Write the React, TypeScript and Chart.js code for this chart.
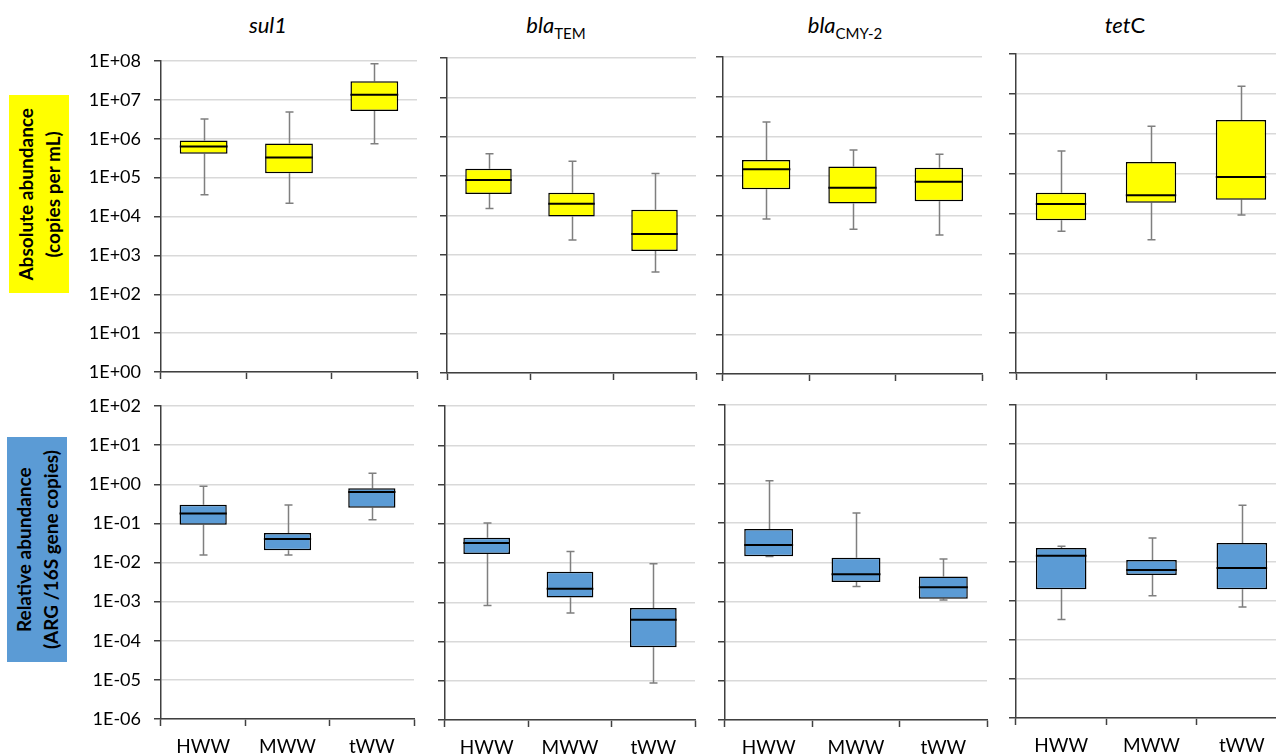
import React, { useEffect, useRef } from 'react';
import { Chart, registerables } from 'chart.js';

Chart.register(...registerables);

// ---------- data ----------
const groups = ['HWW', 'MWW', 'tWW'];
const absTicks = [1e0, 1e1, 1e2, 1e3, 1e4, 1e5, 1e6, 1e7, 1e8];
const relTicks = [1e-6, 1e-5, 1e-4, 1e-3, 1e-2, 1e-1, 1e0, 1e1, 1e2];

// each group: [min, q1, median, q3, max]
// Absolute abundance (copies per mL)
const sul1Abs = [
  [3.6e4, 4.1e5, 6.3e5, 9.0e5, 3.2e6],
  [2.2e4, 1.3e5, 3.3e5, 7.5e5, 4.9e6],
  [7.4e5, 5.2e6, 1.36e7, 3.0e7, 8.5e7],
];
const blaTemAbs = [
  [1.5e4, 3.5e4, 8.0e4, 1.55e5, 3.7e5],
  [2.4e3, 9.5e3, 2.0e4, 3.8e4, 2.4e5],
  [3.7e2, 1.25e3, 3.4e3, 1.4e4, 1.16e5],
];
const blaCmyAbs = [
  [8.2e3, 4.6e4, 1.48e5, 2.5e5, 2.3e6],
  [4.5e3, 2.0e4, 5.0e4, 1.73e5, 4.5e5],
  [3.2e3, 2.3e4, 7.1e4, 1.6e5, 3.5e5],
];
const tetCAbs = [
  [3.6e3, 6.8e3, 1.74e4, 3.3e4, 3.7e5],
  [2.2e3, 1.87e4, 2.85e4, 1.95e5, 1.55e6],
  [9.2e3, 2.2e4, 8.2e4, 2.2e6, 1.55e7],
];
// Relative abundance (ARG / 16S gene copies)
const sul1Rel = [
  [0.0155, 0.092, 0.18, 0.3, 0.89],
  [0.0155, 0.0207, 0.04, 0.057, 0.295],
  [0.123, 0.25, 0.63, 0.79, 1.9],
];
const blaTemRel = [
  [8.3e-4, 0.0169, 0.0325, 0.044, 0.105],
  [5.3e-4, 1.32e-3, 2.2e-3, 6.0e-3, 0.0196],
  [8.7e-6, 7.1e-5, 3.6e-4, 7.1e-4, 9.5e-3],
];
const blaCmyRel = [
  [0.0142, 0.0144, 0.0277, 0.071, 1.2],
  [2.44e-3, 3.2e-3, 5.0e-3, 0.0132, 0.18],
  [1.12e-3, 1.2e-3, 2.34e-3, 4.4e-3, 0.0123],
];
const tetCRel = [
  [3.3e-4, 1.94e-3, 0.014, 0.022, 0.0246],
  [1.33e-3, 4.5e-3, 6.1e-3, 0.011, 0.04],
  [6.9e-4, 1.94e-3, 6.8e-3, 0.0295, 0.275],
];

// ---------- layout ----------
const topRects = [
  [161, 417, 61, 372],
  [447, 696, 58, 373],
  [723, 982, 57, 374],
  [1016, 1286, 54, 373],
];
const botRects = [
  [161, 414, 406, 719],
  [445, 695, 406, 720],
  [725, 987, 405, 720],
  [1016, 1287, 405, 718],
];
const AXW = 80;
const PT = 30;
const XH = 45;
const PR = 2;
const FONT = 'Lato';
const AXIS_COLOR = '#404040';

const fmtExp = (v: number) => {
  const e = Math.round(Math.log10(v));
  const s = e < 0 ? '-' : '+';
  return '1E' + s + String(Math.abs(e)).padStart(2, '0');
};

const boxPlugin = {
  id: 'boxStats',
  beforeDatasetsDraw(chart: any, _args: any, opts: any) {
    const stats = opts.stats as number[][];
    const meta = chart.getDatasetMeta(0);
    const ys = chart.scales.y;
    const ctx = chart.ctx;
    ctx.save();
    ctx.strokeStyle = '#7f7f7f';
    ctx.lineWidth = 1.5;
    meta.data.forEach((bar: any, i: number) => {
      const [mn, q1, , q3, mx] = stats[i];
      const x = Math.round(bar.x) + 0.5;
      const cap = 4;
      const pMx = ys.getPixelForValue(mx);
      const pMn = ys.getPixelForValue(mn);
      ctx.beginPath();
      ctx.moveTo(x, ys.getPixelForValue(q3));
      ctx.lineTo(x, pMx);
      ctx.moveTo(x - cap, pMx);
      ctx.lineTo(x + cap, pMx);
      ctx.moveTo(x, ys.getPixelForValue(q1));
      ctx.lineTo(x, pMn);
      ctx.moveTo(x - cap, pMn);
      ctx.lineTo(x + cap, pMn);
      ctx.stroke();
    });
    ctx.restore();
  },
  afterDatasetsDraw(chart: any, _args: any, opts: any) {
    const stats = opts.stats as number[][];
    const meta = chart.getDatasetMeta(0);
    const ys = chart.scales.y;
    const ctx = chart.ctx;
    ctx.save();
    ctx.strokeStyle = '#000';
    ctx.lineWidth = 2;
    meta.data.forEach((bar: any, i: number) => {
      const med = stats[i][2];
      const half = bar.width / 2;
      const y = ys.getPixelForValue(med);
      ctx.beginPath();
      ctx.moveTo(bar.x - half, y);
      ctx.lineTo(bar.x + half, y);
      ctx.stroke();
    });
    ctx.restore();
  },
};

type PanelProps = {
  rect: number[];
  stats: number[][];
  ticks: number[];
  showY: boolean;
  showX: boolean;
  fill: string;
};

function Panel({ rect, stats, ticks, showY, showX, fill }: PanelProps) {
  const ref = useRef<HTMLCanvasElement | null>(null);
  const [L, R, T, B] = rect;
  const left = L - AXW;
  const top = T - PT;
  const width = R - L + AXW + PR;
  const height = B - T + PT + XH;

  useEffect(() => {
    if (!ref.current) return;
    const chart = new Chart(ref.current, {
      type: 'bar',
      data: {
        labels: groups,
        datasets: [
          {
            data: stats.map((s) => [s[1], s[3]]) as any,
            backgroundColor: fill,
            borderColor: '#000',
            borderWidth: 1.5,
            borderSkipped: false,
            barPercentage: 0.56,
            categoryPercentage: 1,
          },
        ],
      },
      options: {
        animation: false,
        responsive: false,
        maintainAspectRatio: false,
        devicePixelRatio: 1,
        events: [],
        layout: { padding: { top: PT, right: PR, left: 0, bottom: 0 } },
        plugins: {
          legend: { display: false },
          tooltip: { enabled: false },
          boxStats: { stats },
        } as any,
        scales: {
          x: {
            type: 'category',
            offset: true,
            grid: {
              display: true,
              drawOnChartArea: false,
              drawTicks: true,
              offset: true,
              tickLength: 7,
              tickColor: AXIS_COLOR,
              tickWidth: 1.5,
            } as any,
            border: { display: true, color: AXIS_COLOR, width: 1.5 },
            ticks: {
              display: showX,
              color: '#000',
              font: { family: FONT, size: 19 },
              padding: 9,
              maxRotation: 0,
              autoSkip: false,
            },
            afterFit: (s: any) => {
              s.height = XH;
            },
          },
          y: {
            type: 'logarithmic',
            min: ticks[0],
            max: ticks[ticks.length - 1],
            afterBuildTicks: (s: any) => {
              s.ticks = ticks.map((v) => ({ value: v }));
            },
            grid: {
              color: '#d9d9d9',
              lineWidth: 1.5,
              drawTicks: true,
              tickLength: 7,
              tickColor: AXIS_COLOR,
              tickWidth: 1.5,
            } as any,
            border: { display: true, color: AXIS_COLOR, width: 1.5 },
            ticks: {
              display: showY,
              color: '#000',
              font: { family: FONT, size: 18 },
              padding: 13,
              autoSkip: false,
              callback: (v: any) => fmtExp(Number(v)),
            },
            afterFit: (s: any) => {
              s.width = AXW;
            },
          },
        },
      },
      plugins: [boxPlugin],
    });
    return () => chart.destroy();
  }, []);

  return (
    <canvas
      ref={ref}
      width={width}
      height={height}
      style={{ position: 'absolute', left, top, width, height }}
    />
  );
}

const titleStyle: React.CSSProperties = {
  position: 'absolute',
  top: 12,
  width: 200,
  textAlign: 'center',
  fontFamily: FONT,
  fontSize: 22,
  lineHeight: '26px',
  color: '#000',
  whiteSpace: 'nowrap',
};
const subStyle: React.CSSProperties = {
  fontStyle: 'normal',
  fontSize: 15,
  position: 'relative',
  top: 6,
};

function YTitle({ box, color, lines }: { box: number[]; color: string; lines: string[] }) {
  const [x, y, w, h] = box;
  return (
    <div
      style={{
        position: 'absolute',
        left: x,
        top: y,
        width: w,
        height: h,
        background: color,
        display: 'flex',
        alignItems: 'center',
        justifyContent: 'center',
      }}
    >
      <div
        style={{
          writingMode: 'vertical-rl',
          transform: 'rotate(180deg)',
          fontFamily: FONT,
          fontWeight: 'bold',
          fontSize: 19,
          lineHeight: '27px',
          textAlign: 'center',
          whiteSpace: 'nowrap',
          color: '#000',
        }}
      >
        {lines[0]}
        <br />
        {lines[1]}
      </div>
    </div>
  );
}

export default function App() {
  const absStats = [sul1Abs, blaTemAbs, blaCmyAbs, tetCAbs];
  const relStats = [sul1Rel, blaTemRel, blaCmyRel, tetCRel];
  return (
    <div
      style={{
        position: 'fixed',
        left: 0,
        top: 0,
        width: 1276,
        height: 755,
        overflow: 'hidden',
        background: '#fff',
      }}
    >
      <div style={{ ...titleStyle, left: 268 - 100, fontStyle: 'italic' }}>sul1</div>
      <div style={{ ...titleStyle, left: 556 - 100 }}>
        <i>bla</i>
        <span style={subStyle}>TEM</span>
      </div>
      <div style={{ ...titleStyle, left: 845 - 100 }}>
        <i>bla</i>
        <span style={subStyle}>CMY-2</span>
      </div>
      <div style={{ ...titleStyle, left: 1125 - 100 }}>
        <i>tet</i>C
      </div>

      <YTitle box={[9, 95, 60, 198]} color="#ffff00" lines={['Absolute abundance', '(copies per mL)']} />
      <YTitle
        box={[7, 437, 60, 225]}
        color="#5b9bd5"
        lines={['Relative abundance', '(ARG /16S gene copies)']}
      />

      {topRects.map((r, i) => (
        <Panel
          key={'t' + i}
          rect={r}
          stats={absStats[i]}
          ticks={absTicks}
          showY={i === 0}
          showX={false}
          fill="#ffff00"
        />
      ))}
      {botRects.map((r, i) => (
        <Panel
          key={'b' + i}
          rect={r}
          stats={relStats[i]}
          ticks={relTicks}
          showY={i === 0}
          showX={true}
          fill="#5b9bd5"
        />
      ))}
    </div>
  );
}
